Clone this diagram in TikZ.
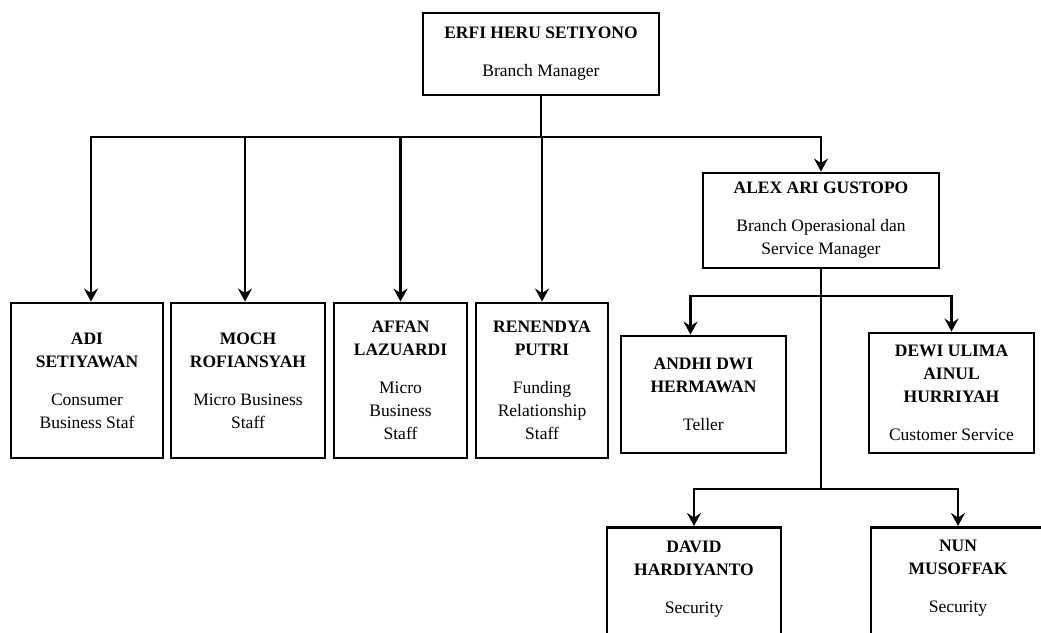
\documentclass[tikz,border=0pt]{standalone}
\usepackage{fontspec}
\setmainfont{Liberation Serif}
\usetikzlibrary{arrows.meta,positioning}
\newcommand{\nm}[1]{\textbf{#1}}
\tikzset{>={Stealth[length=13pt,width=14pt,inset=4.5pt]},
  person/.style={draw,line width=2.9pt,align=center,inner sep=0pt,
    font=\fontsize{17.5}{23}\selectfont},
  link/.style={line width=2.9pt},
  linkarrow/.style={link,->}}

\begin{document}
\begin{tikzpicture}[x=1pt,y=-1pt]
\useasboundingbox (0,0) rectangle (1041,632);\clip (0,0) rectangle (1041,632);
% head of branch
\node[person,minimum width=236pt,minimum height=82pt] (erfi) at (541,54) {\nm{ERFI HERU SETIYONO}\\[15pt]Branch Manager};
% first level
\node[person,minimum width=152pt,minimum height=155pt] (adi) at (87,380.5) {\nm{ADI}\\\nm{SETIYAWAN}\\[15pt]Consumer\\Business Staf};
\node[person,minimum width=154pt,minimum height=155pt] (moch) at (248,380.5) {\nm{MOCH}\\\nm{ROFIANSYAH}\\[15pt]Micro Business\\Staff};
\node[person,minimum width=133pt,minimum height=155pt] (affan) at (400.5,380.5) {\nm{AFFAN}\\\nm{LAZUARDI}\\[15pt]Micro\\Business\\Staff};
\node[person,minimum width=132pt,minimum height=155pt] (renendya) at (542,380.5) {\nm{RENENDYA}\\\nm{PUTRI}\\[15pt]Funding\\Relationship\\Staff};
\node[person,minimum width=236pt,minimum height=95pt] (alex) at (821,220.5) {\nm{ALEX ARI GUSTOPO}\\[15pt]Branch Operasional dan\\Service Manager};
% under operations
\node[person,minimum width=165pt,minimum height=117pt] (andhi) at (703.5,394.5) {\nm{ANDHI DWI}\\\nm{HERMAWAN}\\[15pt]Teller};
\node[person,minimum width=165pt,minimum height=120pt] (dewi) at (951.5,393) {\nm{DEWI ULIMA}\\\nm{AINUL}\\\nm{HURRIYAH}\\[15pt]Customer Service};
\node[person,minimum width=174pt,anchor=north,inner ysep=13pt,text depth=60pt] (david) at (694,526) {\nm{DAVID}\\\nm{HARDIYANTO}\\[15pt]Security};
\node[person,minimum width=174pt,anchor=north,inner ysep=13pt,text depth=60pt] (nun) at (958,526) {\nm{NUN}\\\nm{MUSOFFAK}\\[15pt]Security};
% connectors
\coordinate (bus) at (541,137);\coordinate (fork1) at (821,296);\coordinate (fork2) at (821,489);
\draw[link] (erfi.south) -- (bus);
\draw[linkarrow] (bus) -| ([xshift=4pt]adi.north);\draw[linkarrow] (bus) -| ([xshift=-3pt]moch.north);
\foreach \n in {affan,renendya,alex} \draw[linkarrow] (bus) -| (\n.north);
\draw[link] (alex.south) -- (fork2);
\draw[linkarrow] (fork1) -| ([xshift=-13pt]andhi.north);\draw[linkarrow] (fork1) -| (dewi.north);
\draw[linkarrow] (fork2) -| (david.north);\draw[linkarrow] (fork2) -| (nun.north);
\end{tikzpicture}
\end{document}
